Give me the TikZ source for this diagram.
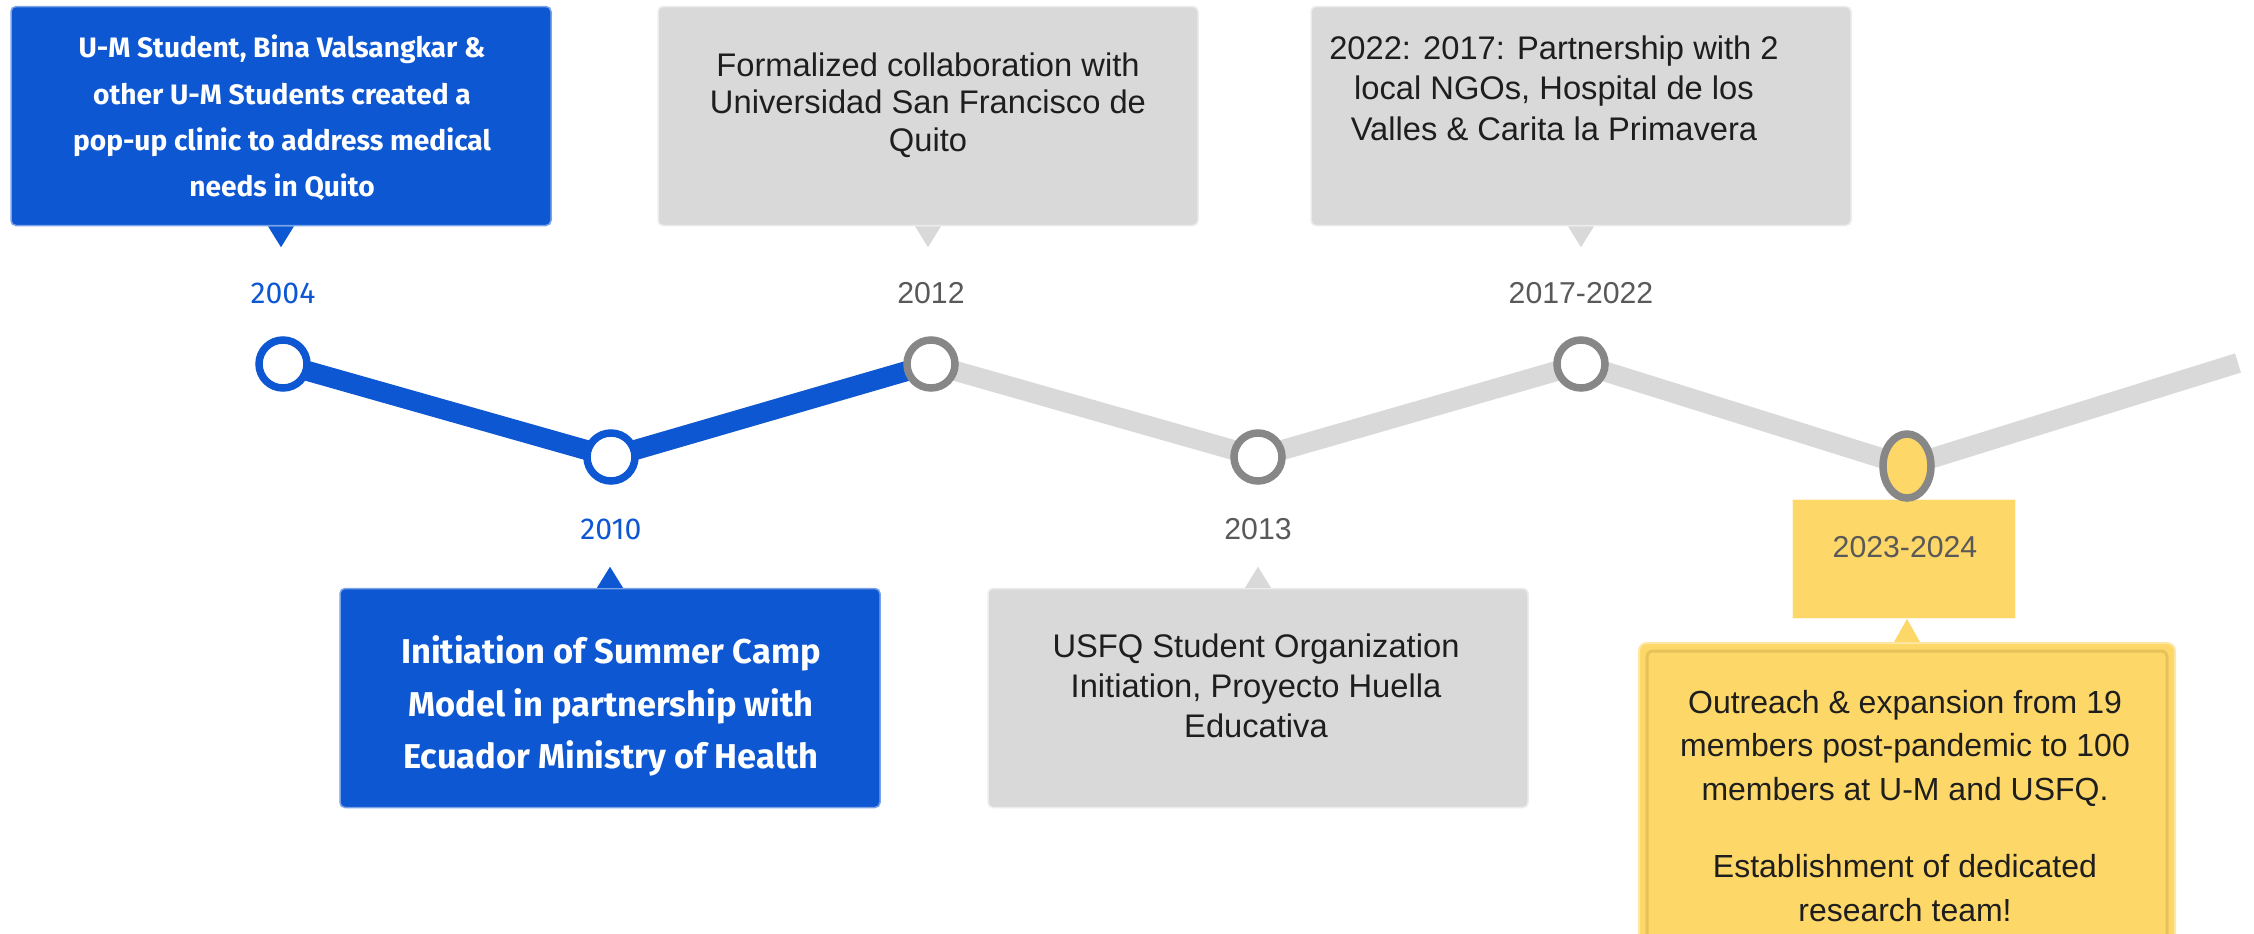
\documentclass[tikz,border=0pt]{standalone}
\usepackage{fontspec}
\setmainfont{Liberation Sans}
\newfontfamily\fira{Fira Sans}
\usepackage{xcolor}
\usepackage{tikz}
\usetikzlibrary{shapes.geometric}

\definecolor{umblue}{HTML}{0D57D3}
\definecolor{boxgray}{HTML}{D9D9D9}
\definecolor{ringgray}{HTML}{878787}
\definecolor{yeargray}{HTML}{595959}
\definecolor{inkgray}{HTML}{1E1E1E}
\definecolor{tlyellow}{HTML}{FDD767}
\definecolor{yellowedge}{HTML}{E6C35A}

\begin{document}
\begin{tikzpicture}[x=0.1mm,y=-0.1mm,
    bluebox/.style={fill=umblue,draw=umblue!55!white,line width=0.15mm,rounded corners=0.5mm,
      inner sep=0pt,minimum width=54mm,minimum height=21.9mm},
    graybox/.style={fill=boxgray,draw=boxgray!50!white,line width=0.15mm,rounded corners=0.5mm,
      inner sep=0pt,minimum width=54mm,minimum height=21.9mm},
    yellowbox/.style={fill=tlyellow,draw=tlyellow!60!white,line width=0.2mm,rounded corners=0.8mm,
      inner sep=0pt,minimum width=53.6mm,minimum height=31.8mm},
    yearbox/.style={fill=tlyellow,draw=tlyellow!25!white,line width=0.15mm,
      inner sep=0pt,minimum width=22.3mm,minimum height=11.9mm},
    grayline/.style={draw=boxgray,line width=2mm,line join=round},
    blueline/.style={draw=umblue,line width=2mm,line join=round},
    ring/.style={circle,draw=ringgray,line width=0.75mm,fill=white,minimum size=4.8mm,inner sep=0pt},
    bluering/.style={ring,draw=umblue},
    yellowring/.style={ellipse,draw=ringgray,line width=0.75mm,fill=tlyellow,
      minimum width=4.8mm,minimum height=6.4mm,inner sep=0pt},
    blueyear/.style={text=umblue,font=\fira\fontsize{8.6}{10}\selectfont},
    grayyear/.style={text=yeargray,font=\fontsize{8.6}{10}\selectfont},
    smallwhite/.style={text=white,align=center,font=\fira\bfseries\fontsize{8}{13.2}\selectfont},
    bigwhite/.style={text=white,align=center,font=\fira\bfseries\fontsize{9.8}{15}\selectfont},
    graytext/.style={text=inkgray,align=center,font=\fontsize{9.3}{10.7}\selectfont}]

  \useasboundingbox (0,0) rectangle (2254,934);
  \clip (0,0) rectangle (2254,934);

  % boxes
  \node[bluebox] (b2004) at (281,116) {};
  \node[graybox] (b2012) at (928,116) {};
  \node[graybox] (b2017) at (1581,116) {};
  \node[bluebox] (b2010) at (610,698) {};
  \node[graybox] (b2013) at (1258,698) {};
  \node[yellowbox, anchor=north] (b2023) at (1907,642) {};
  \draw[yellowedge,line width=0.3mm,rounded corners=0.6mm]
    ([shift={(0.9mm,-0.9mm)}]b2023.north west) rectangle ([shift={(-0.9mm,-2mm)}]b2023.south east);
  \node[yearbox] (r2023) at (1904,559) {};

  % pointers
  \fill[umblue] ([xshift=-1.3mm]b2004.south) -- ++(13,21) -- ++(13,-21) -- cycle;
  \fill[boxgray] ([xshift=-1.3mm]b2012.south) -- ++(13,21) -- ++(13,-21) -- cycle;
  \fill[boxgray] ([xshift=-1.3mm]b2017.south) -- ++(13,21) -- ++(13,-21) -- cycle;
  \fill[umblue] ([xshift=-1.3mm]b2010.north) -- ++(13,-21) -- ++(13,21) -- cycle;
  \fill[boxgray] ([xshift=-1.3mm]b2013.north) -- ++(13,-21) -- ++(13,21) -- cycle;
  \fill[tlyellow] ([xshift=-1.3mm]b2023.north) -- ++(13,-23) -- ++(13,23) -- cycle;

  % timeline
  \coordinate (p2004) at (283,364);
  \coordinate (p2010) at (611,457);
  \coordinate (p2012) at (931,364);
  \coordinate (p2013) at (1258,457);
  \coordinate (p2017) at (1581,364);
  \coordinate (p2023) at (1907,466);
  \coordinate (pend) at (2238,363);
  \draw[grayline] (p2010) -- (p2012) -- (p2013) -- (p2017) -- (p2023) -- (pend);
  \draw[blueline] (p2004) -- (p2010) -- (p2012);

  \node[bluering] (c2004) at (p2004) {};
  \node[bluering] (c2010) at (p2010) {};
  \node[ring] (c2012) at (p2012) {};
  \node[ring] (c2013) at (p2013) {};
  \node[ring] (c2017) at (p2017) {};
  \node[yellowring] (c2023) at (p2023) {};

  % years
  \node[blueyear] (y2004) at (283,293) {2004};
  \node[blueyear] (y2010) at (611,529) {2010};
  \node[grayyear] (y2012) at (931,293) {2012};
  \node[grayyear] (y2013) at (1258,529) {2013};
  \node[grayyear] (y2017) at (1581,293) {2017-2022};
  \node[grayyear] (y2023) at (1905,547) {2023-2024};

  % texts
  \node[smallwhite] (t2004) at (282,118) {U-M Student, Bina Valsangkar \&\\other U-M Students created a\\pop-up clinic to address medical\\needs in Quito};
  \node[bigwhite] (t2010) at (611,706) {Initiation of Summer Camp\\Model in partnership with\\Ecuador Ministry of Health};
  \node[graytext] (t2012) at (928,105) {Formalized collaboration with\\Universidad San Francisco de\\Quito};
  \node[graytext,font=\fontsize{9.3}{11.5}\selectfont] (t2017) at (1554,88) {2022: 2017: Partnership with 2\\local NGOs, Hospital de los\\Valles \& Carita la Primavera};
  \node[graytext,font=\fontsize{9.3}{11.4}\selectfont] (t2013) at (1256,686) {USFQ Student Organization\\Initiation, Proyecto Huella\\Educativa};
  \node[graytext,font=\fontsize{9.1}{12.5}\selectfont] (t2023) at (1905,806) {Outreach \& expansion from 19\\members post-pandemic to 100\\members at U-M and USFQ.\\[9.4pt]Establishment of dedicated\\research team!};
\end{tikzpicture}
\end{document}
